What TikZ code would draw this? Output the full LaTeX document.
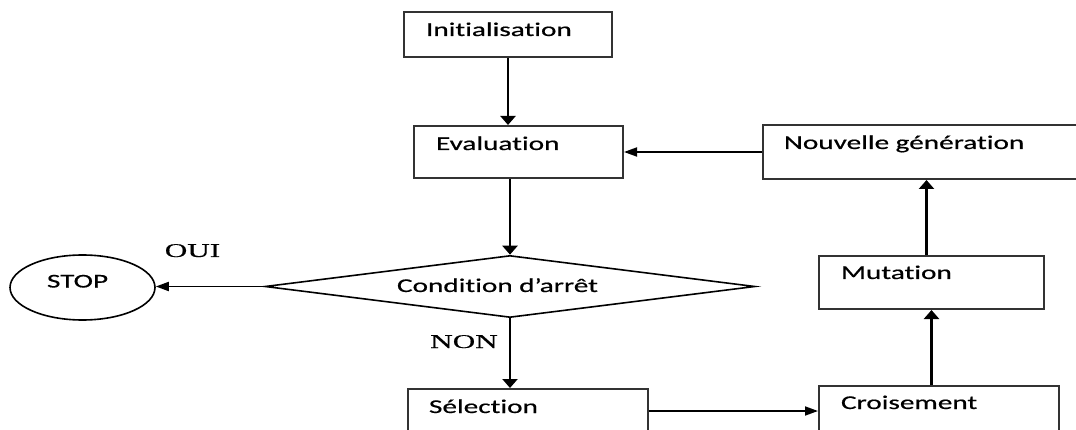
\documentclass[tikz,border=0pt]{standalone}
\usepackage{fontspec}
\usetikzlibrary{shapes.geometric,arrows.meta}
\newfontfamily\boxfont[FakeStretch=1.5,FakeBold=0.6,Ligatures=NoCommon]{Carlito}
\newfontfamily\labfont[FakeStretch=1.6,FakeBold=0.4]{Liberation Serif}
\begin{document}
\begin{tikzpicture}[x=1pt,y=-1pt,
  % steps: framed, text placed top-left inside the frame
  box/.style={draw=black!80, line width=2pt, anchor=north west, inner ysep=0pt,
              align=left, font=\boxfont\fontsize{19.5}{23}\selectfont},
  term/.style={ellipse, draw, line width=1.6pt, inner sep=0pt, align=left,
               font=\boxfont\fontsize{19.5}{23}\selectfont},
  test/.style={diamond, draw, line width=1.6pt, inner sep=0pt, align=left,
               font=\boxfont\fontsize{19.5}{23}\selectfont},
  lab/.style={font=\labfont\fontsize{19.5}{23}\selectfont, inner sep=0pt, anchor=base},
  % flow arrows (vertical ones get a wide flat head)
  varr/.style={-{Triangle[length=9pt,width=15pt]}, line width=2.6pt},
  harr/.style={-{Triangle[length=13pt,width=9pt]}, line width=1.8pt},
  ]
  \useasboundingbox (0,0) rectangle (1076,430);
  \clip (0,0) rectangle (1076,430);
  % ---- steps ------------------------------------------------------------
  \node[box, inner xsep=22pt, text width=164pt, text height=24pt, text depth=21pt]
    (init) at (403,11) {Initialisation};
  \node[box, inner xsep=22pt, text width=165pt, text height=24pt, text depth=28pt]
    (eval) at (413,125) {Evaluation};
  \node[box, inner xsep=21pt, text width=288pt, text height=24pt, text depth=30pt]
    (nouv) at (762,124) {Nouvelle génération};
  \node[box, inner xsep=22pt, text width=181pt, text height=23pt, text depth=30pt]
    (mut) at (818,255) {Mutation};
  \node[box, inner xsep=21pt, text width=198pt, text height=24pt, text depth=48pt]
    (sel) at (407,388) {Sélection};
  \node[box, inner xsep=22pt, text width=196pt, text height=23pt, text depth=49pt]
    (crois) at (818,385) {Croisement};
  \node[term, minimum width=145pt, minimum height=65pt, text width=71pt,
        text height=12pt, text depth=12pt] (stop) at (82.5,287.5) {STOP};
  \node[test, minimum width=490pt, minimum height=62pt, aspect=7.9, text width=226pt,
        text height=12pt, text depth=1pt] (cond) at (510,286.5) {Condition d’arrêt};
  % ---- branch labels ------------------------------------------------------
  \node[lab] (oui) at (192.5,257) {OUI};
  \node[lab] (non) at (464,348) {NON};
  % ---- flow -----------------------------------------------------------------
  \draw[varr] (init.south) -- (init.south |- eval.north);
  \draw[varr] (eval.south -| cond.north) -- (cond.north);
  \draw[harr] (cond.west) -- (cond.west -| stop.east);
  \draw[varr] (cond.south) -- (cond.south |- sel.north);
  \draw[harr] ([yshift=-23pt]sel.north east) -- ([yshift=-23pt]sel.north east -| crois.west);
  \draw[varr] (mut.south |- crois.north) -- (mut.south);
  \draw[varr] ([xshift=-5pt]mut.north) -- ([xshift=-5pt]mut.north |- nouv.south);
  \draw[harr] (nouv.west) -- (nouv.west -| eval.east);
\end{tikzpicture}
\end{document}
